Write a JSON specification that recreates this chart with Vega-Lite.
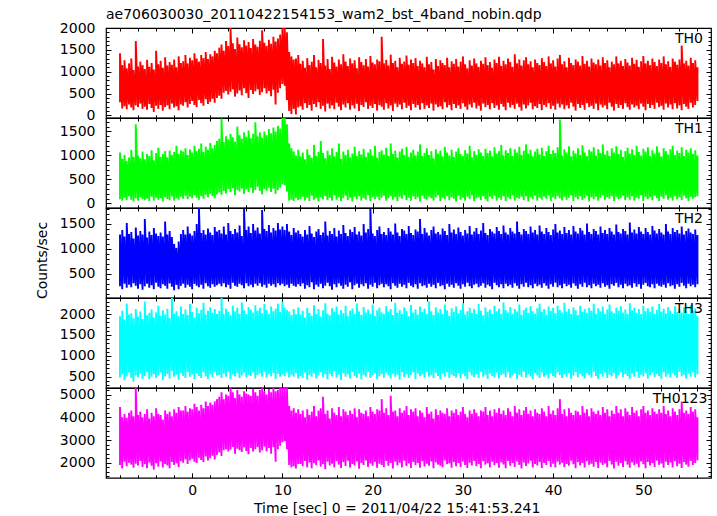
{
"$schema":"https://vega.github.io/schema/vega-lite/v6.json",
"padding":{"left":34,"top":8,"right":5,"bottom":2},
"title":{"text":"ae706030030_20110422154153_wam2_bst_4band_nobin.qdp","anchor":"start","frame":"group","font":"DejaVu Sans","fontSize":14,"fontWeight":"normal","color":"#000","offset":-13,"baseline":"alphabetic"},
"bounds":"flush",
"spacing":0,
"data":{"values":[
{"t":-8,"lo0":300,"hi0":1420,"lo1":90,"hi1":1060,"lo2":250,"hi2":1290,"lo3":480,"hi3":1950,"lo4":1900,"hi4":4450},
{"t":-7.75,"lo0":160,"hi0":1150,"lo1":60,"hi1":930,"lo2":190,"hi2":1380,"lo3":560,"hi3":2080,"lo4":1750,"hi4":4000},
{"t":-7.5,"lo0":210,"hi0":1260,"lo1":120,"hi1":1010,"lo2":300,"hi2":1250,"lo3":420,"hi3":1870,"lo4":2050,"hi4":4150},
{"t":-7.25,"lo0":140,"hi0":1080,"lo1":70,"hi1":880,"lo2":220,"hi2":1520,"lo3":510,"hi3":2250,"lo4":1850,"hi4":3980},
{"t":-7,"lo0":250,"hi0":1190,"lo1":150,"hi1":960,"lo2":280,"hi2":1300,"lo3":600,"hi3":1990,"lo4":2000,"hi4":4200},
{"t":-6.75,"lo0":180,"hi0":1300,"lo1":80,"hi1":1120,"lo2":230,"hi2":1340,"lo3":470,"hi3":2020,"lo4":1920,"hi4":4300},
{"t":-6.5,"lo0":120,"hi0":1040,"lo1":40,"hi1":970,"lo2":310,"hi2":1210,"lo3":380,"hi3":1900,"lo4":1780,"hi4":4050},
{"t":-6.25,"lo0":230,"hi0":1700,"lo1":110,"hi1":1650,"lo2":260,"hi2":1430,"lo3":540,"hi3":2120,"lo4":1960,"hi4":5290},
{"t":-6,"lo0":190,"hi0":1120,"lo1":60,"hi1":1000,"lo2":200,"hi2":1270,"lo3":490,"hi3":1940,"lo4":1880,"hi4":4100},
{"t":-5.75,"lo0":270,"hi0":1230,"lo1":130,"hi1":940,"lo2":290,"hi2":1360,"lo3":580,"hi3":2060,"lo4":2080,"hi4":4250},
{"t":-5.5,"lo0":150,"hi0":1150,"lo1":90,"hi1":1080,"lo2":180,"hi2":1290,"lo3":450,"hi3":1880,"lo4":1820,"hi4":4000},
{"t":-5.25,"lo0":200,"hi0":1060,"lo1":70,"hi1":920,"lo2":250,"hi2":1600,"lo3":520,"hi3":2300,"lo4":1940,"hi4":4150},
{"t":-5,"lo0":130,"hi0":1270,"lo1":100,"hi1":1030,"lo2":300,"hi2":1230,"lo3":610,"hi3":1970,"lo4":1760,"hi4":4350},
{"t":-4.75,"lo0":260,"hi0":1110,"lo1":50,"hi1":990,"lo2":220,"hi2":1350,"lo3":440,"hi3":2030,"lo4":2010,"hi4":3950},
{"t":-4.5,"lo0":170,"hi0":1200,"lo1":140,"hi1":1110,"lo2":270,"hi2":1280,"lo3":500,"hi3":2110,"lo4":1870,"hi4":4200},
{"t":-4.25,"lo0":80,"hi0":1050,"lo1":60,"hi1":900,"lo2":190,"hi2":1420,"lo3":560,"hi3":1920,"lo4":1700,"hi4":4050},
{"t":-4,"lo0":220,"hi0":1480,"lo1":120,"hi1":1050,"lo2":320,"hi2":1310,"lo3":470,"hi3":2040,"lo4":1980,"hi4":4400},
{"t":-3.75,"lo0":150,"hi0":1170,"lo1":80,"hi1":1160,"lo2":240,"hi2":1260,"lo3":530,"hi3":2200,"lo4":1830,"hi4":4150},
{"t":-3.5,"lo0":240,"hi0":1250,"lo1":110,"hi1":970,"lo2":210,"hi2":1330,"lo3":600,"hi3":1960,"lo4":2060,"hi4":4100},
{"t":-3.25,"lo0":110,"hi0":1090,"lo1":40,"hi1":1030,"lo2":290,"hi2":1250,"lo3":420,"hi3":2090,"lo4":1790,"hi4":3900},
{"t":-3,"lo0":190,"hi0":1330,"lo1":130,"hi1":1090,"lo2":260,"hi2":1550,"lo3":510,"hi3":1990,"lo4":1950,"hi4":4300},
{"t":-2.75,"lo0":230,"hi0":1140,"lo1":90,"hi1":960,"lo2":200,"hi2":1290,"lo3":570,"hi3":2130,"lo4":1880,"hi4":4150},
{"t":-2.5,"lo0":140,"hi0":1220,"lo1":70,"hi1":1100,"lo2":310,"hi2":1360,"lo3":460,"hi3":1900,"lo4":1760,"hi4":4250},
{"t":-2.25,"lo0":270,"hi0":1160,"lo1":150,"hi1":1010,"lo2":240,"hi2":1240,"lo3":640,"hi3":2385,"lo4":2040,"hi4":4050},
{"t":-2,"lo0":180,"hi0":1280,"lo1":60,"hi1":1070,"lo2":170,"hi2":1100,"lo3":500,"hi3":2010,"lo4":1900,"hi4":4350},
{"t":-1.75,"lo0":210,"hi0":1100,"lo1":110,"hi1":1200,"lo2":280,"hi2":1020,"lo3":550,"hi3":2070,"lo4":1980,"hi4":4200},
{"t":-1.5,"lo0":120,"hi0":1350,"lo1":80,"hi1":1030,"lo2":190,"hi2":1150,"lo3":430,"hi3":1950,"lo4":1810,"hi4":4450},
{"t":-1.25,"lo0":250,"hi0":1200,"lo1":140,"hi1":1110,"lo2":260,"hi2":1300,"lo3":590,"hi3":2180,"lo4":2070,"hi4":4300},
{"t":-1,"lo0":220,"hi0":1240,"lo1":100,"hi1":1080,"lo2":300,"hi2":1380,"lo3":520,"hi3":2000,"lo4":2000,"hi4":4300},
{"t":-0.75,"lo0":300,"hi0":1380,"lo1":160,"hi1":1150,"lo2":220,"hi2":1290,"lo3":470,"hi3":2110,"lo4":2150,"hi4":4500},
{"t":-0.5,"lo0":180,"hi0":1190,"lo1":90,"hi1":1010,"lo2":280,"hi2":1450,"lo3":610,"hi3":1980,"lo4":1950,"hi4":4250},
{"t":-0.25,"lo0":260,"hi0":1320,"lo1":140,"hi1":1130,"lo2":240,"hi2":1310,"lo3":500,"hi3":2240,"lo4":2100,"hi4":4400},
{"t":0,"lo0":330,"hi0":1260,"lo1":110,"hi1":1060,"lo2":190,"hi2":1270,"lo3":560,"hi3":2050,"lo4":2180,"hi4":4350},
{"t":0.25,"lo0":240,"hi0":1420,"lo1":170,"hi1":1200,"lo2":300,"hi2":1360,"lo3":440,"hi3":1920,"lo4":2050,"hi4":4600},
{"t":0.5,"lo0":190,"hi0":1300,"lo1":120,"hi1":1090,"lo2":260,"hi2":1500,"lo3":580,"hi3":2150,"lo4":1990,"hi4":4450},
{"t":0.75,"lo0":350,"hi0":1230,"lo1":80,"hi1":1140,"lo2":230,"hi2":1820,"lo3":520,"hi3":2020,"lo4":2220,"hi4":4300},
{"t":1,"lo0":280,"hi0":1380,"lo1":150,"hi1":1250,"lo2":280,"hi2":1320,"lo3":470,"hi3":2100,"lo4":2120,"hi4":4550},
{"t":1.25,"lo0":220,"hi0":1310,"lo1":100,"hi1":1070,"lo2":200,"hi2":1380,"lo3":600,"hi3":2270,"lo4":2030,"hi4":4400},
{"t":1.5,"lo0":370,"hi0":1450,"lo1":180,"hi1":1180,"lo2":310,"hi2":1290,"lo3":510,"hi3":1990,"lo4":2280,"hi4":4700},
{"t":1.75,"lo0":260,"hi0":1290,"lo1":130,"hi1":1120,"lo2":250,"hi2":1410,"lo3":450,"hi3":2080,"lo4":2100,"hi4":4500},
{"t":2,"lo0":310,"hi0":1400,"lo1":200,"hi1":1260,"lo2":220,"hi2":1330,"lo3":560,"hi3":2160,"lo4":2200,"hi4":4650},
{"t":2.25,"lo0":380,"hi0":1350,"lo1":150,"hi1":1150,"lo2":290,"hi2":1280,"lo3":490,"hi3":2030,"lo4":2310,"hi4":4550},
{"t":2.5,"lo0":290,"hi0":1480,"lo1":110,"hi1":1220,"lo2":240,"hi2":1440,"lo3":620,"hi3":2120,"lo4":2150,"hi4":4700},
{"t":2.75,"lo0":400,"hi0":1420,"lo1":190,"hi1":1300,"lo2":270,"hi2":1350,"lo3":530,"hi3":2010,"lo4":2350,"hi4":4800},
{"t":3,"lo0":450,"hi0":1550,"lo1":230,"hi1":1350,"lo2":300,"hi2":1380,"lo3":540,"hi3":2080,"lo4":2450,"hi4":4900},
{"t":3.25,"lo0":380,"hi0":1620,"lo1":180,"hi1":1770,"lo2":250,"hi2":1310,"lo3":470,"hi3":2385,"lo4":2300,"hi4":5100},
{"t":3.5,"lo0":520,"hi0":1480,"lo1":260,"hi1":1280,"lo2":310,"hi2":1450,"lo3":580,"hi3":2000,"lo4":2550,"hi4":4800},
{"t":3.75,"lo0":560,"hi0":1700,"lo1":210,"hi1":1400,"lo2":230,"hi2":1290,"lo3":500,"hi3":2130,"lo4":2600,"hi4":5000},
{"t":4,"lo0":480,"hi0":1590,"lo1":300,"hi1":1330,"lo2":280,"hi2":1520,"lo3":620,"hi3":2050,"lo4":2500,"hi4":4950},
{"t":4.25,"lo0":540,"hi0":2000,"lo1":240,"hi1":1450,"lo2":200,"hi2":1360,"lo3":450,"hi3":1970,"lo4":2580,"hi4":5290},
{"t":4.5,"lo0":600,"hi0":1650,"lo1":320,"hi1":1380,"lo2":320,"hi2":1300,"lo3":560,"hi3":2200,"lo4":2700,"hi4":5100},
{"t":4.75,"lo0":430,"hi0":1520,"lo1":170,"hi1":1290,"lo2":260,"hi2":1400,"lo3":510,"hi3":2060,"lo4":2400,"hi4":4850},
{"t":5,"lo0":500,"hi0":1780,"lo1":280,"hi1":1600,"lo2":240,"hi2":1330,"lo3":590,"hi3":2150,"lo4":2620,"hi4":5200},
{"t":5.25,"lo0":570,"hi0":1630,"lo1":250,"hi1":1420,"lo2":300,"hi2":1470,"lo3":470,"hi3":2010,"lo4":2550,"hi4":5000},
{"t":5.5,"lo0":460,"hi0":1560,"lo1":310,"hi1":1350,"lo2":270,"hi2":1260,"lo3":530,"hi3":2280,"lo4":2480,"hi4":4900},
{"t":5.75,"lo0":620,"hi0":1720,"lo1":200,"hi1":1480,"lo2":210,"hi2":1800,"lo3":600,"hi3":2090,"lo4":2680,"hi4":5150},
{"t":6,"lo0":510,"hi0":1600,"lo1":290,"hi1":1390,"lo2":310,"hi2":1380,"lo3":490,"hi3":2000,"lo4":2520,"hi4":5050},
{"t":6.25,"lo0":400,"hi0":1680,"lo1":240,"hi1":1520,"lo2":250,"hi2":1450,"lo3":550,"hi3":2170,"lo4":2380,"hi4":5000},
{"t":6.5,"lo0":580,"hi0":1540,"lo1":330,"hi1":1360,"lo2":280,"hi2":1320,"lo3":520,"hi3":2110,"lo4":2650,"hi4":4950},
{"t":6.75,"lo0":490,"hi0":1750,"lo1":220,"hi1":1450,"lo2":230,"hi2":1500,"lo3":610,"hi3":2040,"lo4":2500,"hi4":5250},
{"t":7,"lo0":550,"hi0":1620,"lo1":280,"hi1":1690,"lo2":300,"hi2":1370,"lo3":460,"hi3":2210,"lo4":2600,"hi4":5100},
{"t":7.25,"lo0":600,"hi0":1570,"lo1":350,"hi1":1400,"lo2":260,"hi2":1430,"lo3":540,"hi3":2080,"lo4":2700,"hi4":4950},
{"t":7.5,"lo0":470,"hi0":1710,"lo1":260,"hi1":1480,"lo2":310,"hi2":1310,"lo3":580,"hi3":2150,"lo4":2450,"hi4":5200},
{"t":7.75,"lo0":530,"hi0":1950,"lo1":190,"hi1":1370,"lo2":240,"hi2":1780,"lo3":500,"hi3":2020,"lo4":2550,"hi4":5290},
{"t":8,"lo0":620,"hi0":1660,"lo1":300,"hi1":1500,"lo2":280,"hi2":1400,"lo3":620,"hi3":2240,"lo4":2720,"hi4":5150},
{"t":8.25,"lo0":500,"hi0":1590,"lo1":270,"hi1":1420,"lo2":220,"hi2":1360,"lo3":480,"hi3":2100,"lo4":2500,"hi4":5000},
{"t":8.5,"lo0":560,"hi0":1730,"lo1":330,"hi1":1550,"lo2":300,"hi2":1480,"lo3":560,"hi3":2000,"lo4":2650,"hi4":5250},
{"t":8.75,"lo0":440,"hi0":1640,"lo1":240,"hi1":1460,"lo2":260,"hi2":1330,"lo3":510,"hi3":2180,"lo4":2400,"hi4":5100},
{"t":9,"lo0":590,"hi0":1800,"lo1":310,"hi1":1580,"lo2":290,"hi2":1420,"lo3":590,"hi3":2070,"lo4":2680,"hi4":5290},
{"t":9.25,"lo0":250,"hi0":1690,"lo1":200,"hi1":1500,"lo2":230,"hi2":1370,"lo3":450,"hi3":2130,"lo4":2050,"hi4":5150},
{"t":9.5,"lo0":520,"hi0":1760,"lo1":280,"hi1":1620,"lo2":310,"hi2":1520,"lo3":570,"hi3":2250,"lo4":2600,"hi4":5200},
{"t":9.75,"lo0":620,"hi0":1850,"lo1":330,"hi1":1560,"lo2":270,"hi2":1390,"lo3":500,"hi3":2050,"lo4":2750,"hi4":5290},
{"t":10,"lo0":720,"hi0":2000,"lo1":400,"hi1":1780,"lo2":300,"hi2":1450,"lo3":560,"hi3":2300,"lo4":2900,"hi4":5290},
{"t":10.25,"lo0":680,"hi0":2000,"lo1":380,"hi1":1780,"lo2":250,"hi2":1380,"lo3":520,"hi3":2150,"lo4":2950,"hi4":5290},
{"t":10.5,"lo0":350,"hi0":1900,"lo1":250,"hi1":1650,"lo2":280,"hi2":1500,"lo3":600,"hi3":2100,"lo4":2600,"hi4":5290},
{"t":10.75,"lo0":100,"hi0":1450,"lo1":60,"hi1":1250,"lo2":220,"hi2":1350,"lo3":480,"hi3":2060,"lo4":1900,"hi4":4500},
{"t":11,"lo0":30,"hi0":1350,"lo1":80,"hi1":1150,"lo2":300,"hi2":1280,"lo3":550,"hi3":1980,"lo4":1800,"hi4":4300},
{"t":11.25,"lo0":150,"hi0":1280,"lo1":50,"hi1":1080,"lo2":260,"hi2":1420,"lo3":500,"hi3":2120,"lo4":1850,"hi4":4400},
{"t":11.5,"lo0":20,"hi0":1300,"lo1":110,"hi1":1000,"lo2":240,"hi2":1330,"lo3":590,"hi3":2000,"lo4":1750,"hi4":4200},
{"t":11.75,"lo0":180,"hi0":1380,"lo1":70,"hi1":1120,"lo2":290,"hi2":1370,"lo3":460,"hi3":2160,"lo4":1950,"hi4":4350},
{"t":12,"lo0":210,"hi0":1180,"lo1":90,"hi1":980,"lo2":250,"hi2":1300,"lo3":520,"hi3":1990,"lo4":1950,"hi4":4150},
{"t":12.25,"lo0":130,"hi0":1250,"lo1":140,"hi1":1060,"lo2":310,"hi2":1250,"lo3":470,"hi3":2080,"lo4":1850,"hi4":4300},
{"t":12.5,"lo0":280,"hi0":1090,"lo1":60,"hi1":920,"lo2":200,"hi2":1380,"lo3":600,"hi3":1920,"lo4":2080,"hi4":4000},
{"t":12.75,"lo0":170,"hi0":1310,"lo1":120,"hi1":1130,"lo2":270,"hi2":1290,"lo3":430,"hi3":2150,"lo4":1800,"hi4":4350},
{"t":13,"lo0":240,"hi0":1150,"lo1":50,"hi1":1010,"lo2":230,"hi2":1460,"lo3":550,"hi3":2030,"lo4":2010,"hi4":4100},
{"t":13.25,"lo0":110,"hi0":1230,"lo1":160,"hi1":950,"lo2":330,"hi2":1310,"lo3":500,"hi3":1960,"lo4":1760,"hi4":4250},
{"t":13.5,"lo0":260,"hi0":1380,"lo1":80,"hi1":1220,"lo2":190,"hi2":1240,"lo3":580,"hi3":2210,"lo4":1980,"hi4":4500},
{"t":13.75,"lo0":190,"hi0":1100,"lo1":110,"hi1":990,"lo2":280,"hi2":1350,"lo3":460,"hi3":2000,"lo4":1890,"hi4":4050},
{"t":14,"lo0":300,"hi0":1270,"lo1":40,"hi1":1070,"lo2":240,"hi2":1400,"lo3":530,"hi3":2120,"lo4":2100,"hi4":4300},
{"t":14.25,"lo0":150,"hi0":1200,"lo1":130,"hi1":1300,"lo2":300,"hi2":1280,"lo3":610,"hi3":1940,"lo4":1830,"hi4":4400},
{"t":14.5,"lo0":220,"hi0":1750,"lo1":90,"hi1":1050,"lo2":210,"hi2":1330,"lo3":490,"hi3":2090,"lo4":1940,"hi4":4900},
{"t":14.75,"lo0":90,"hi0":1140,"lo1":150,"hi1":940,"lo2":260,"hi2":1550,"lo3":560,"hi3":2260,"lo4":1720,"hi4":4150},
{"t":15,"lo0":270,"hi0":1290,"lo1":70,"hi1":1100,"lo2":320,"hi2":1270,"lo3":440,"hi3":2010,"lo4":2050,"hi4":4300},
{"t":15.25,"lo0":160,"hi0":1060,"lo1":120,"hi1":1010,"lo2":250,"hi2":1360,"lo3":570,"hi3":1970,"lo4":1880,"hi4":3950},
{"t":15.5,"lo0":230,"hi0":1340,"lo1":60,"hi1":1150,"lo2":180,"hi2":1300,"lo3":510,"hi3":2140,"lo4":1960,"hi4":4400},
{"t":15.75,"lo0":140,"hi0":1210,"lo1":170,"hi1":980,"lo2":290,"hi2":1420,"lo3":630,"hi3":2050,"lo4":1800,"hi4":4200},
{"t":16,"lo0":290,"hi0":1120,"lo1":80,"hi1":1070,"lo2":230,"hi2":1250,"lo3":480,"hi3":2180,"lo4":2070,"hi4":4100},
{"t":16.25,"lo0":200,"hi0":1280,"lo1":130,"hi1":1250,"lo2":310,"hi2":1370,"lo3":550,"hi3":1990,"lo4":1920,"hi4":4450},
{"t":16.5,"lo0":120,"hi0":1170,"lo1":50,"hi1":930,"lo2":260,"hi2":1300,"lo3":420,"hi3":2100,"lo4":1770,"hi4":4050},
{"t":16.75,"lo0":250,"hi0":1400,"lo1":110,"hi1":1080,"lo2":200,"hi2":1480,"lo3":590,"hi3":2020,"lo4":2030,"hi4":4350},
{"t":17,"lo0":180,"hi0":1230,"lo1":160,"hi1":1010,"lo2":280,"hi2":1320,"lo3":500,"hi3":2200,"lo4":1860,"hi4":4250},
{"t":17.25,"lo0":280,"hi0":1130,"lo1":70,"hi1":1120,"lo2":240,"hi2":1260,"lo3":560,"hi3":1950,"lo4":2090,"hi4":4100},
{"t":17.5,"lo0":130,"hi0":1300,"lo1":120,"hi1":960,"lo2":330,"hi2":1390,"lo3":460,"hi3":2080,"lo4":1790,"hi4":4300},
{"t":17.75,"lo0":230,"hi0":1190,"lo1":40,"hi1":1040,"lo2":190,"hi2":1340,"lo3":610,"hi3":2130,"lo4":1950,"hi4":4150},
{"t":18,"lo0":160,"hi0":1260,"lo1":140,"hi1":1180,"lo2":270,"hi2":1440,"lo3":520,"hi3":2000,"lo4":1880,"hi4":4400},
{"t":18.25,"lo0":270,"hi0":1080,"lo1":90,"hi1":990,"lo2":300,"hi2":1290,"lo3":470,"hi3":2250,"lo4":2060,"hi4":4000},
{"t":18.5,"lo0":100,"hi0":1330,"lo1":150,"hi1":1090,"lo2":220,"hi2":1350,"lo3":580,"hi3":2060,"lo4":1740,"hi4":4350},
{"t":18.75,"lo0":240,"hi0":1220,"lo1":60,"hi1":1020,"lo2":290,"hi2":1270,"lo3":440,"hi3":1980,"lo4":1990,"hi4":4200},
{"t":19,"lo0":190,"hi0":1150,"lo1":110,"hi1":1140,"lo2":250,"hi2":1500,"lo3":550,"hi3":2170,"lo4":1900,"hi4":4150},
{"t":19.25,"lo0":300,"hi0":1290,"lo1":80,"hi1":970,"lo2":310,"hi2":1330,"lo3":500,"hi3":2040,"lo4":2100,"hi4":4300},
{"t":19.5,"lo0":150,"hi0":1120,"lo1":170,"hi1":1060,"lo2":200,"hi2":1400,"lo3":620,"hi3":2110,"lo4":1820,"hi4":4050},
{"t":19.75,"lo0":220,"hi0":1360,"lo1":50,"hi1":1130,"lo2":280,"hi2":1800,"lo3":470,"hi3":2000,"lo4":1970,"hi4":4450},
{"t":20,"lo0":170,"hi0":1210,"lo1":130,"hi1":1000,"lo2":240,"hi2":1310,"lo3":540,"hi3":2230,"lo4":1870,"hi4":4250},
{"t":20.25,"lo0":260,"hi0":1170,"lo1":90,"hi1":1200,"lo2":320,"hi2":1260,"lo3":590,"hi3":1960,"lo4":2040,"hi4":4150},
{"t":20.5,"lo0":110,"hi0":1280,"lo1":140,"hi1":950,"lo2":210,"hi2":1380,"lo3":450,"hi3":2090,"lo4":1780,"hi4":4350},
{"t":20.75,"lo0":240,"hi0":1240,"lo1":70,"hi1":1070,"lo2":270,"hi2":1450,"lo3":510,"hi3":2150,"lo4":1960,"hi4":4300},
{"t":21,"lo0":200,"hi0":1800,"lo1":120,"hi1":1110,"lo2":300,"hi2":1300,"lo3":570,"hi3":2040,"lo4":1900,"hi4":4800},
{"t":21.25,"lo0":130,"hi0":1190,"lo1":160,"hi1":1020,"lo2":230,"hi2":1340,"lo3":480,"hi3":2000,"lo4":1810,"hi4":4200},
{"t":21.5,"lo0":280,"hi0":1270,"lo1":60,"hi1":1160,"lo2":290,"hi2":1280,"lo3":600,"hi3":2190,"lo4":2080,"hi4":4400},
{"t":21.75,"lo0":160,"hi0":1140,"lo1":110,"hi1":990,"lo2":250,"hi2":1420,"lo3":530,"hi3":2060,"lo4":1870,"hi4":4100},
{"t":22,"lo0":230,"hi0":1390,"lo1":150,"hi1":1250,"lo2":190,"hi2":1350,"lo3":460,"hi3":2120,"lo4":1990,"hi4":4950},
{"t":22.25,"lo0":100,"hi0":1200,"lo1":80,"hi1":1030,"lo2":310,"hi2":1290,"lo3":580,"hi3":1980,"lo4":1750,"hi4":4250},
{"t":22.5,"lo0":270,"hi0":1250,"lo1":130,"hi1":1100,"lo2":260,"hi2":1510,"lo3":500,"hi3":2270,"lo4":2050,"hi4":4300},
{"t":22.75,"lo0":190,"hi0":1100,"lo1":50,"hi1":960,"lo2":220,"hi2":1330,"lo3":550,"hi3":2030,"lo4":1880,"hi4":4050},
{"t":23,"lo0":250,"hi0":1320,"lo1":140,"hi1":1080,"lo2":300,"hi2":1260,"lo3":430,"hi3":2100,"lo4":2000,"hi4":4400},
{"t":23.25,"lo0":140,"hi0":1180,"lo1":100,"hi1":1140,"lo2":240,"hi2":1400,"lo3":610,"hi3":2000,"lo4":1800,"hi4":4200},
{"t":23.5,"lo0":290,"hi0":1230,"lo1":170,"hi1":1010,"lo2":280,"hi2":1370,"lo3":490,"hi3":2160,"lo4":2090,"hi4":4300},
{"t":23.75,"lo0":170,"hi0":1370,"lo1":70,"hi1":1180,"lo2":210,"hi2":1300,"lo3":560,"hi3":2080,"lo4":1860,"hi4":4500},
{"t":24,"lo0":220,"hi0":1160,"lo1":120,"hi1":970,"lo2":320,"hi2":1460,"lo3":470,"hi3":1950,"lo4":1970,"hi4":4100},
{"t":24.25,"lo0":120,"hi0":1280,"lo1":60,"hi1":1060,"lo2":260,"hi2":1320,"lo3":540,"hi3":2220,"lo4":1770,"hi4":4350},
{"t":24.5,"lo0":260,"hi0":1200,"lo1":150,"hi1":1120,"lo2":230,"hi2":1280,"lo3":600,"hi3":2040,"lo4":2040,"hi4":4250},
{"t":24.75,"lo0":180,"hi0":1310,"lo1":90,"hi1":1000,"lo2":290,"hi2":1390,"lo3":450,"hi3":2110,"lo4":1900,"hi4":4400},
{"t":25,"lo0":240,"hi0":1130,"lo1":130,"hi1":1080,"lo2":200,"hi2":1350,"lo3":580,"hi3":1990,"lo4":1990,"hi4":4050},
{"t":25.25,"lo0":130,"hi0":1250,"lo1":40,"hi1":1230,"lo2":310,"hi2":1600,"lo3":510,"hi3":2180,"lo4":1780,"hi4":4300},
{"t":25.5,"lo0":280,"hi0":1190,"lo1":160,"hi1":990,"lo2":250,"hi2":1300,"lo3":560,"hi3":2050,"lo4":2070,"hi4":4200},
{"t":25.75,"lo0":150,"hi0":1100,"lo1":100,"hi1":1050,"lo2":270,"hi2":1420,"lo3":480,"hi3":2130,"lo4":1840,"hi4":4000},
{"t":26,"lo0":230,"hi0":1340,"lo1":80,"hi1":1150,"lo2":220,"hi2":1330,"lo3":620,"hi3":2010,"lo4":1960,"hi4":4450},
{"t":26.25,"lo0":170,"hi0":1170,"lo1":140,"hi1":1010,"lo2":300,"hi2":1270,"lo3":500,"hi3":2300,"lo4":1870,"hi4":4150},
{"t":26.5,"lo0":270,"hi0":1220,"lo1":110,"hi1":1090,"lo2":240,"hi2":1380,"lo3":540,"hi3":2070,"lo4":2060,"hi4":4250},
{"t":26.75,"lo0":110,"hi0":1050,"lo1":60,"hi1":940,"lo2":280,"hi2":1450,"lo3":470,"hi3":1980,"lo4":1760,"hi4":3950},
{"t":27,"lo0":250,"hi0":1290,"lo1":130,"hi1":1130,"lo2":210,"hi2":1310,"lo3":590,"hi3":2160,"lo4":2010,"hi4":4350},
{"t":27.25,"lo0":190,"hi0":1130,"lo1":170,"hi1":1040,"lo2":320,"hi2":1340,"lo3":520,"hi3":2040,"lo4":1920,"hi4":4100},
{"t":27.5,"lo0":210,"hi0":1260,"lo1":50,"hi1":1100,"lo2":250,"hi2":1290,"lo3":440,"hi3":2120,"lo4":1870,"hi4":4300},
{"t":27.75,"lo0":140,"hi0":1200,"lo1":120,"hi1":980,"lo2":270,"hi2":1410,"lo3":580,"hi3":2000,"lo4":1800,"hi4":4200},
{"t":28,"lo0":300,"hi0":1150,"lo1":90,"hi1":1180,"lo2":190,"hi2":1360,"lo3":500,"hi3":2230,"lo4":2100,"hi4":4150},
{"t":28.25,"lo0":180,"hi0":1320,"lo1":150,"hi1":1060,"lo2":300,"hi2":1280,"lo3":610,"hi3":2090,"lo4":1940,"hi4":4400},
{"t":28.5,"lo0":240,"hi0":1100,"lo1":70,"hi1":1000,"lo2":240,"hi2":1500,"lo3":470,"hi3":1960,"lo4":1980,"hi4":4050},
{"t":28.75,"lo0":120,"hi0":1240,"lo1":130,"hi1":1120,"lo2":280,"hi2":1330,"lo3":550,"hi3":2140,"lo4":1780,"hi4":4300},
{"t":29,"lo0":260,"hi0":1180,"lo1":100,"hi1":970,"lo2":220,"hi2":1390,"lo3":520,"hi3":2050,"lo4":2030,"hi4":4200},
{"t":29.25,"lo0":170,"hi0":1290,"lo1":40,"hi1":1080,"lo2":310,"hi2":1300,"lo3":480,"hi3":2180,"lo4":1850,"hi4":4350},
{"t":29.5,"lo0":230,"hi0":1120,"lo1":160,"hi1":1150,"lo2":260,"hi2":1430,"lo3":590,"hi3":2020,"lo4":1990,"hi4":4100},
{"t":29.75,"lo0":150,"hi0":1230,"lo1":80,"hi1":1030,"lo2":200,"hi2":1340,"lo3":460,"hi3":2100,"lo4":1820,"hi4":4250},
{"t":30,"lo0":280,"hi0":1350,"lo1":120,"hi1":990,"lo2":290,"hi2":1270,"lo3":570,"hi3":2260,"lo4":2060,"hi4":4450},
{"t":30.25,"lo0":200,"hi0":1170,"lo1":60,"hi1":1110,"lo2":240,"hi2":1380,"lo3":510,"hi3":1990,"lo4":1900,"hi4":4150},
{"t":30.5,"lo0":130,"hi0":1080,"lo1":140,"hi1":1040,"lo2":320,"hi2":1310,"lo3":440,"hi3":2070,"lo4":1770,"hi4":4000},
{"t":30.75,"lo0":250,"hi0":1260,"lo1":90,"hi1":1200,"lo2":250,"hi2":1460,"lo3":600,"hi3":2150,"lo4":2000,"hi4":4300},
{"t":31,"lo0":180,"hi0":1140,"lo1":170,"hi1":960,"lo2":210,"hi2":1290,"lo3":530,"hi3":2030,"lo4":1880,"hi4":4150},
{"t":31.25,"lo0":290,"hi0":1300,"lo1":50,"hi1":1090,"lo2":280,"hi2":1350,"lo3":490,"hi3":2120,"lo4":2080,"hi4":4350},
{"t":31.5,"lo0":160,"hi0":1190,"lo1":110,"hi1":1010,"lo2":300,"hi2":1420,"lo3":560,"hi3":2000,"lo4":1850,"hi4":4200},
{"t":31.75,"lo0":220,"hi0":1110,"lo1":130,"hi1":1130,"lo2":230,"hi2":1300,"lo3":470,"hi3":2240,"lo4":1950,"hi4":4050},
{"t":32,"lo0":110,"hi0":1250,"lo1":70,"hi1":1060,"lo2":260,"hi2":1370,"lo3":620,"hi3":2080,"lo4":1760,"hi4":4300},
{"t":32.25,"lo0":270,"hi0":1180,"lo1":150,"hi1":990,"lo2":310,"hi2":1520,"lo3":500,"hi3":1970,"lo4":2070,"hi4":4250},
{"t":32.5,"lo0":190,"hi0":1330,"lo1":90,"hi1":1140,"lo2":220,"hi2":1320,"lo3":550,"hi3":2160,"lo4":1920,"hi4":4450},
{"t":32.75,"lo0":240,"hi0":1150,"lo1":40,"hi1":1050,"lo2":280,"hi2":1280,"lo3":450,"hi3":2050,"lo4":1980,"hi4":4100},
{"t":33,"lo0":140,"hi0":1220,"lo1":140,"hi1":1100,"lo2":250,"hi2":1400,"lo3":580,"hi3":2110,"lo4":1800,"hi4":4300},
{"t":33.25,"lo0":280,"hi0":1090,"lo1":100,"hi1":980,"lo2":190,"hi2":1350,"lo3":520,"hi3":2000,"lo4":2050,"hi4":4050},
{"t":33.5,"lo0":170,"hi0":1280,"lo1":160,"hi1":1170,"lo2":320,"hi2":1310,"lo3":480,"hi3":2200,"lo4":1890,"hi4":4350},
{"t":33.75,"lo0":230,"hi0":1200,"lo1":60,"hi1":1040,"lo2":270,"hi2":1440,"lo3":600,"hi3":2070,"lo4":1990,"hi4":4200},
{"t":34,"lo0":130,"hi0":1340,"lo1":120,"hi1":1090,"lo2":230,"hi2":1360,"lo3":460,"hi3":2130,"lo4":1780,"hi4":4400},
{"t":34.25,"lo0":260,"hi0":1130,"lo1":80,"hi1":1220,"lo2":290,"hi2":1300,"lo3":540,"hi3":2010,"lo4":2020,"hi4":4150},
{"t":34.5,"lo0":200,"hi0":1250,"lo1":150,"hi1":1000,"lo2":210,"hi2":1470,"lo3":570,"hi3":2280,"lo4":1930,"hi4":4300},
{"t":34.75,"lo0":120,"hi0":1170,"lo1":50,"hi1":1110,"lo2":300,"hi2":1330,"lo3":490,"hi3":2090,"lo4":1760,"hi4":4100},
{"t":35,"lo0":290,"hi0":1300,"lo1":130,"hi1":1050,"lo2":250,"hi2":1290,"lo3":610,"hi3":2040,"lo4":2080,"hi4":4400},
{"t":35.25,"lo0":180,"hi0":1220,"lo1":90,"hi1":1150,"lo2":280,"hi2":1420,"lo3":470,"hi3":2170,"lo4":1870,"hi4":4250},
{"t":35.5,"lo0":240,"hi0":1110,"lo1":170,"hi1":990,"lo2":220,"hi2":1350,"lo3":530,"hi3":2000,"lo4":1990,"hi4":4050},
{"t":35.75,"lo0":150,"hi0":1400,"lo1":60,"hi1":1130,"lo2":310,"hi2":1310,"lo3":580,"hi3":2120,"lo4":1820,"hi4":4500},
{"t":36,"lo0":270,"hi0":1190,"lo1":120,"hi1":1060,"lo2":260,"hi2":1550,"lo3":450,"hi3":2060,"lo4":2060,"hi4":4200},
{"t":36.25,"lo0":190,"hi0":1280,"lo1":100,"hi1":1180,"lo2":200,"hi2":1340,"lo3":550,"hi3":2230,"lo4":1910,"hi4":4350},
{"t":36.5,"lo0":110,"hi0":1140,"lo1":140,"hi1":1010,"lo2":290,"hi2":1290,"lo3":500,"hi3":1980,"lo4":1750,"hi4":4100},
{"t":36.75,"lo0":250,"hi0":1260,"lo1":70,"hi1":1100,"lo2":240,"hi2":1400,"lo3":620,"hi3":2100,"lo4":2010,"hi4":4300},
{"t":37,"lo0":160,"hi0":1330,"lo1":150,"hi1":1230,"lo2":320,"hi2":1360,"lo3":480,"hi3":2150,"lo4":1860,"hi4":4450},
{"t":37.25,"lo0":230,"hi0":1170,"lo1":40,"hi1":1040,"lo2":230,"hi2":1300,"lo3":560,"hi3":2030,"lo4":1970,"hi4":4150},
{"t":37.5,"lo0":290,"hi0":1240,"lo1":130,"hi1":1120,"lo2":270,"hi2":1450,"lo3":510,"hi3":2190,"lo4":2090,"hi4":4300},
{"t":37.75,"lo0":140,"hi0":1100,"lo1":90,"hi1":980,"lo2":210,"hi2":1330,"lo3":440,"hi3":2070,"lo4":1790,"hi4":4050},
{"t":38,"lo0":210,"hi0":1280,"lo1":160,"hi1":1080,"lo2":300,"hi2":1380,"lo3":590,"hi3":2010,"lo4":1950,"hi4":4350},
{"t":38.25,"lo0":170,"hi0":1200,"lo1":60,"hi1":1140,"lo2":250,"hi2":1290,"lo3":530,"hi3":2140,"lo4":1880,"hi4":4200},
{"t":38.5,"lo0":260,"hi0":1150,"lo1":120,"hi1":1020,"lo2":280,"hi2":1470,"lo3":470,"hi3":2250,"lo4":2040,"hi4":4150},
{"t":38.75,"lo0":120,"hi0":1310,"lo1":80,"hi1":1160,"lo2":220,"hi2":1350,"lo3":600,"hi3":2050,"lo4":1770,"hi4":4400},
{"t":39,"lo0":240,"hi0":1220,"lo1":140,"hi1":990,"lo2":310,"hi2":1300,"lo3":500,"hi3":2120,"lo4":1990,"hi4":4250},
{"t":39.25,"lo0":190,"hi0":1130,"lo1":100,"hi1":1090,"lo2":260,"hi2":1420,"lo3":550,"hi3":1990,"lo4":1900,"hi4":4050},
{"t":39.5,"lo0":280,"hi0":1350,"lo1":170,"hi1":1200,"lo2":200,"hi2":1340,"lo3":460,"hi3":2180,"lo4":2080,"hi4":4500},
{"t":39.75,"lo0":150,"hi0":1190,"lo1":50,"hi1":1030,"lo2":290,"hi2":1280,"lo3":580,"hi3":2080,"lo4":1820,"hi4":4150},
{"t":40,"lo0":220,"hi0":1260,"lo1":130,"hi1":1110,"lo2":240,"hi2":1390,"lo3":520,"hi3":2150,"lo4":1960,"hi4":4300},
{"t":40.25,"lo0":130,"hi0":1120,"lo1":90,"hi1":1050,"lo2":320,"hi2":1500,"lo3":480,"hi3":2020,"lo4":1790,"hi4":4100},
{"t":40.5,"lo0":270,"hi0":1300,"lo1":150,"hi1":1170,"lo2":230,"hi2":1330,"lo3":610,"hi3":2200,"lo4":2050,"hi4":4400},
{"t":40.75,"lo0":180,"hi0":1380,"lo1":110,"hi1":1750,"lo2":270,"hi2":1370,"lo3":540,"hi3":2100,"lo4":1920,"hi4":4800},
{"t":41,"lo0":250,"hi0":1170,"lo1":60,"hi1":1000,"lo2":210,"hi2":1300,"lo3":470,"hi3":2040,"lo4":2000,"hi4":4150},
{"t":41.25,"lo0":140,"hi0":1240,"lo1":140,"hi1":1130,"lo2":300,"hi2":1440,"lo3":560,"hi3":2270,"lo4":1810,"hi4":4350},
{"t":41.5,"lo0":230,"hi0":1100,"lo1":80,"hi1":1060,"lo2":250,"hi2":1320,"lo3":500,"hi3":2060,"lo4":1950,"hi4":4050},
{"t":41.75,"lo0":160,"hi0":1320,"lo1":120,"hi1":1190,"lo2":280,"hi2":1380,"lo3":590,"hi3":2130,"lo4":1870,"hi4":4400},
{"t":42,"lo0":290,"hi0":1200,"lo1":170,"hi1":980,"lo2":220,"hi2":1290,"lo3":450,"hi3":2000,"lo4":2090,"hi4":4200},
{"t":42.25,"lo0":200,"hi0":1150,"lo1":50,"hi1":1100,"lo2":310,"hi2":1460,"lo3":530,"hi3":2160,"lo4":1940,"hi4":4100},
{"t":42.5,"lo0":110,"hi0":1280,"lo1":130,"hi1":1040,"lo2":260,"hi2":1350,"lo3":610,"hi3":2090,"lo4":1760,"hi4":4300},
{"t":42.75,"lo0":260,"hi0":1230,"lo1":90,"hi1":1150,"lo2":200,"hi2":1310,"lo3":490,"hi3":1980,"lo4":2030,"hi4":4250},
{"t":43,"lo0":170,"hi0":1140,"lo1":150,"hi1":1010,"lo2":290,"hi2":1420,"lo3":570,"hi3":2200,"lo4":1880,"hi4":4100},
{"t":43.25,"lo0":240,"hi0":1360,"lo1":70,"hi1":1210,"lo2":240,"hi2":1370,"lo3":510,"hi3":2050,"lo4":1990,"hi4":4500},
{"t":43.5,"lo0":130,"hi0":1180,"lo1":110,"hi1":1060,"lo2":320,"hi2":1290,"lo3":460,"hi3":2120,"lo4":1790,"hi4":4200},
{"t":43.75,"lo0":280,"hi0":1250,"lo1":160,"hi1":990,"lo2":230,"hi2":1510,"lo3":590,"hi3":2030,"lo4":2070,"hi4":4350},
{"t":44,"lo0":190,"hi0":1120,"lo1":40,"hi1":1120,"lo2":270,"hi2":1340,"lo3":540,"hi3":2150,"lo4":1910,"hi4":4050},
{"t":44.25,"lo0":220,"hi0":1300,"lo1":130,"hi1":1080,"lo2":210,"hi2":1300,"lo3":480,"hi3":2080,"lo4":1960,"hi4":4400},
{"t":44.5,"lo0":150,"hi0":1210,"lo1":90,"hi1":1170,"lo2":300,"hi2":1400,"lo3":620,"hi3":2250,"lo4":1830,"hi4":4250},
{"t":44.75,"lo0":270,"hi0":1170,"lo1":140,"hi1":1000,"lo2":250,"hi2":1360,"lo3":520,"hi3":2010,"lo4":2040,"hi4":4150},
{"t":45,"lo0":120,"hi0":1280,"lo1":60,"hi1":1130,"lo2":280,"hi2":1290,"lo3":450,"hi3":2140,"lo4":1770,"hi4":4300},
{"t":45.25,"lo0":250,"hi0":1140,"lo1":120,"hi1":1050,"lo2":220,"hi2":1450,"lo3":570,"hi3":2060,"lo4":2010,"hi4":4100},
{"t":45.5,"lo0":180,"hi0":1330,"lo1":170,"hi1":1230,"lo2":310,"hi2":1320,"lo3":500,"hi3":2180,"lo4":1900,"hi4":4450},
{"t":45.75,"lo0":230,"hi0":1200,"lo1":80,"hi1":1020,"lo2":240,"hi2":1380,"lo3":600,"hi3":2000,"lo4":1970,"hi4":4200},
{"t":46,"lo0":140,"hi0":1260,"lo1":130,"hi1":1100,"lo2":270,"hi2":1300,"lo3":470,"hi3":2110,"lo4":1800,"hi4":4350},
{"t":46.25,"lo0":290,"hi0":1100,"lo1":100,"hi1":990,"lo2":200,"hi2":1420,"lo3":550,"hi3":2230,"lo4":2080,"hi4":4050},
{"t":46.5,"lo0":200,"hi0":1230,"lo1":150,"hi1":1150,"lo2":290,"hi2":1350,"lo3":510,"hi3":2070,"lo4":1930,"hi4":4300},
{"t":46.75,"lo0":110,"hi0":1170,"lo1":50,"hi1":1060,"lo2":260,"hi2":1290,"lo3":590,"hi3":2020,"lo4":1750,"hi4":4150},
{"t":47,"lo0":260,"hi0":1350,"lo1":140,"hi1":1190,"lo2":320,"hi2":1490,"lo3":460,"hi3":2150,"lo4":2050,"hi4":4500},
{"t":47.25,"lo0":170,"hi0":1190,"lo1":90,"hi1":1030,"lo2":230,"hi2":1340,"lo3":540,"hi3":2080,"lo4":1870,"hi4":4200},
{"t":47.5,"lo0":240,"hi0":1250,"lo1":110,"hi1":1120,"lo2":280,"hi2":1310,"lo3":610,"hi3":2190,"lo4":1990,"hi4":4350},
{"t":47.75,"lo0":150,"hi0":1130,"lo1":160,"hi1":970,"lo2":210,"hi2":1400,"lo3":490,"hi3":2040,"lo4":1820,"hi4":4050},
{"t":48,"lo0":280,"hi0":1290,"lo1":70,"hi1":1090,"lo2":300,"hi2":1360,"lo3":560,"hi3":2110,"lo4":2070,"hi4":4400},
{"t":48.25,"lo0":190,"hi0":1210,"lo1":130,"hi1":1160,"lo2":250,"hi2":1290,"lo3":520,"hi3":2000,"lo4":1920,"hi4":4250},
{"t":48.5,"lo0":130,"hi0":1140,"lo1":80,"hi1":1040,"lo2":270,"hi2":1530,"lo3":450,"hi3":2260,"lo4":1780,"hi4":4100},
{"t":48.75,"lo0":250,"hi0":1320,"lo1":150,"hi1":1130,"lo2":220,"hi2":1330,"lo3":580,"hi3":2090,"lo4":2020,"hi4":4450},
{"t":49,"lo0":180,"hi0":1180,"lo1":60,"hi1":1010,"lo2":310,"hi2":1390,"lo3":500,"hi3":2150,"lo4":1890,"hi4":4200},
{"t":49.25,"lo0":220,"hi0":1270,"lo1":120,"hi1":1200,"lo2":240,"hi2":1310,"lo3":620,"hi3":2030,"lo4":1960,"hi4":4300},
{"t":49.5,"lo0":140,"hi0":1110,"lo1":100,"hi1":1070,"lo2":290,"hi2":1440,"lo3":470,"hi3":2120,"lo4":1800,"hi4":4050},
{"t":49.75,"lo0":270,"hi0":1240,"lo1":170,"hi1":1000,"lo2":200,"hi2":1350,"lo3":550,"hi3":2000,"lo4":2060,"hi4":4350},
{"t":50,"lo0":200,"hi0":1360,"lo1":50,"hi1":1140,"lo2":280,"hi2":1300,"lo3":510,"hi3":2200,"lo4":1940,"hi4":4500},
{"t":50.25,"lo0":120,"hi0":1190,"lo1":140,"hi1":1080,"lo2":320,"hi2":1420,"lo3":590,"hi3":2070,"lo4":1760,"hi4":4200},
{"t":50.5,"lo0":260,"hi0":1250,"lo1":90,"hi1":1170,"lo2":250,"hi2":1340,"lo3":460,"hi3":2140,"lo4":2040,"hi4":4300},
{"t":50.75,"lo0":170,"hi0":1150,"lo1":130,"hi1":990,"lo2":230,"hi2":1290,"lo3":540,"hi3":2050,"lo4":1880,"hi4":4100},
{"t":51,"lo0":240,"hi0":1300,"lo1":70,"hi1":1110,"lo2":290,"hi2":1460,"lo3":600,"hi3":2180,"lo4":1990,"hi4":4400},
{"t":51.25,"lo0":150,"hi0":1220,"lo1":160,"hi1":1040,"lo2":210,"hi2":1370,"lo3":490,"hi3":2010,"lo4":1820,"hi4":4250},
{"t":51.5,"lo0":290,"hi0":1130,"lo1":110,"hi1":1190,"lo2":300,"hi2":1310,"lo3":570,"hi3":2100,"lo4":2090,"hi4":4150},
{"t":51.75,"lo0":190,"hi0":1280,"lo1":50,"hi1":1060,"lo2":260,"hi2":1400,"lo3":520,"hi3":2240,"lo4":1910,"hi4":4350},
{"t":52,"lo0":220,"hi0":1200,"lo1":140,"hi1":980,"lo2":240,"hi2":1330,"lo3":450,"hi3":2060,"lo4":1970,"hi4":4200},
{"t":52.25,"lo0":130,"hi0":1350,"lo1":100,"hi1":1150,"lo2":280,"hi2":1290,"lo3":610,"hi3":2130,"lo4":1780,"hi4":4500},
{"t":52.5,"lo0":270,"hi0":1170,"lo1":170,"hi1":1090,"lo2":220,"hi2":1500,"lo3":500,"hi3":2020,"lo4":2050,"hi4":4150},
{"t":52.75,"lo0":180,"hi0":1240,"lo1":80,"hi1":1020,"lo2":310,"hi2":1350,"lo3":560,"hi3":2170,"lo4":1900,"hi4":4300},
{"t":53,"lo0":250,"hi0":1110,"lo1":120,"hi1":1130,"lo2":250,"hi2":1300,"lo3":480,"hi3":2080,"lo4":2010,"hi4":4050},
{"t":53.25,"lo0":140,"hi0":1300,"lo1":60,"hi1":1200,"lo2":270,"hi2":1420,"lo3":590,"hi3":2000,"lo4":1800,"hi4":4400},
{"t":53.5,"lo0":280,"hi0":1230,"lo1":150,"hi1":1010,"lo2":200,"hi2":1340,"lo3":530,"hi3":2190,"lo4":2070,"hi4":4250},
{"t":53.75,"lo0":160,"hi0":1160,"lo1":90,"hi1":1100,"lo2":290,"hi2":1380,"lo3":470,"hi3":2050,"lo4":1850,"hi4":4100},
{"t":54,"lo0":230,"hi0":1280,"lo1":130,"hi1":1050,"lo2":240,"hi2":1310,"lo3":620,"hi3":2110,"lo4":1960,"hi4":4350},
{"t":54.25,"lo0":120,"hi0":1600,"lo1":70,"hi1":1170,"lo2":320,"hi2":1450,"lo3":510,"hi3":2030,"lo4":1770,"hi4":4700},
{"t":54.5,"lo0":260,"hi0":1190,"lo1":160,"hi1":990,"lo2":260,"hi2":1290,"lo3":550,"hi3":2160,"lo4":2030,"hi4":4200},
{"t":54.75,"lo0":200,"hi0":1250,"lo1":110,"hi1":1120,"lo2":210,"hi2":1360,"lo3":460,"hi3":2080,"lo4":1920,"hi4":4300},
{"t":55,"lo0":150,"hi0":1140,"lo1":50,"hi1":1060,"lo2":300,"hi2":1410,"lo3":580,"hi3":2000,"lo4":1830,"hi4":4150},
{"t":55.25,"lo0":290,"hi0":1320,"lo1":140,"hi1":1150,"lo2":250,"hi2":1330,"lo3":500,"hi3":2220,"lo4":2080,"hi4":4450},
{"t":55.5,"lo0":180,"hi0":1200,"lo1":100,"hi1":1030,"lo2":280,"hi2":1300,"lo3":610,"hi3":2090,"lo4":1900,"hi4":4250},
{"t":55.75,"lo0":240,"hi0":1260,"lo1":130,"hi1":1110,"lo2":230,"hi2":1390,"lo3":480,"hi3":2140,"lo4":1990,"hi4":4350},
{"t":56,"lo0":330,"hi0":1100,"lo1":150,"hi1":1000,"lo2":290,"hi2":1280,"lo3":560,"hi3":1950,"lo4":2100,"hi4":4000}
]},
"vconcat":[
{"width":605,"height":89.8,
 "layer":[
  {"transform":[{"fold":["lo0","hi0"],"as":["k","v"]}],
   "mark":{"type":"line","color":"#ff0000","strokeWidth":1.9},
   "encoding":{
    "x":{"field":"t","type":"quantitative","scale":{"domain":[-9.55,57.5],"nice":false,"zero":false},
         "axis":{"orient":"bottom","values":[-8,-6,-4,-2,0,2,4,6,8,10,12,14,16,18,20,22,24,26,28,30,32,34,36,38,40,42,44,46,48,50,52,54,56],"labels":false,"title":null,"tickSize":{"condition":{"test":"datum.value % 10 === 0","value":-5},"value":-3}}},
    "y":{"field":"v","type":"quantitative","scale":{"domain":[-55,2000],"nice":false,"zero":false},
         "axis":{"orient":"left","values":[0,100,200,300,400,500,600,700,800,900,1000,1100,1200,1300,1400,1500,1600,1700,1800,1900,2000],"format":"d","labelExpr":"datum.value % 500 === 0 ? datum.label : ''","labelPadding":16,"labelFlush":false,"labelOverlap":false,"title":null,"tickSize":{"condition":{"test":"datum.value % 500 === 0","value":-5},"value":-3}}}}},
  {"data":{"values":[{"label":"TH0"}]},
   "mark":{"type":"text","align":"right","baseline":"top","font":"DejaVu Sans","fontSize":14,"fontWeight":"normal","color":"#000"},
   "encoding":{
    "text":{"field":"label"},
    "x":{"datum":56.6,"type":"quantitative","axis":{"orient":"top","values":[-8,-6,-4,-2,0,2,4,6,8,10,12,14,16,18,20,22,24,26,28,30,32,34,36,38,40,42,44,46,48,50,52,54,56],"labels":false,"title":null,"tickSize":{"condition":{"test":"datum.value % 10 === 0","value":-5},"value":-3}}},
    "y":{"datum":1908,"type":"quantitative","axis":{"orient":"right","values":[0,100,200,300,400,500,600,700,800,900,1000,1100,1200,1300,1400,1500,1600,1700,1800,1900,2000],"labels":false,"title":null,"tickSize":{"condition":{"test":"datum.value % 500 === 0","value":-5},"value":-3}}}}}
 ],
 "resolve":{"axis":{"x":"independent","y":"independent"}}},
{"width":605,"height":89.8,
 "layer":[
  {"transform":[{"fold":["lo1","hi1"],"as":["k","v"]}],
   "mark":{"type":"line","color":"#00ff00","strokeWidth":1.9},
   "encoding":{
    "x":{"field":"t","type":"quantitative","scale":{"domain":[-9.55,57.5],"nice":false,"zero":false},
         "axis":{"orient":"bottom","values":[-8,-6,-4,-2,0,2,4,6,8,10,12,14,16,18,20,22,24,26,28,30,32,34,36,38,40,42,44,46,48,50,52,54,56],"labels":false,"title":null,"tickSize":{"condition":{"test":"datum.value % 10 === 0","value":-5},"value":-3}}},
    "y":{"field":"v","type":"quantitative","scale":{"domain":[-90,1780],"nice":false,"zero":false},
         "axis":{"orient":"left","values":[0,100,200,300,400,500,600,700,800,900,1000,1100,1200,1300,1400,1500,1600,1700],"format":"d","labelExpr":"datum.value % 500 === 0 ? datum.label : ''","labelPadding":16,"labelFlush":false,"labelOverlap":false,"title":null,"tickSize":{"condition":{"test":"datum.value % 500 === 0","value":-5},"value":-3}}}}},
  {"data":{"values":[{"label":"TH1"}]},
   "mark":{"type":"text","align":"right","baseline":"top","font":"DejaVu Sans","fontSize":14,"fontWeight":"normal","color":"#000"},
   "encoding":{
    "text":{"field":"label"},
    "x":{"datum":56.6,"type":"quantitative","axis":{"orient":"top","values":[-8,-6,-4,-2,0,2,4,6,8,10,12,14,16,18,20,22,24,26,28,30,32,34,36,38,40,42,44,46,48,50,52,54,56],"labels":false,"title":null,"tickSize":{"condition":{"test":"datum.value % 10 === 0","value":-5},"value":-3}}},
    "y":{"datum":1697,"type":"quantitative","axis":{"orient":"right","values":[0,100,200,300,400,500,600,700,800,900,1000,1100,1200,1300,1400,1500,1600,1700],"labels":false,"title":null,"tickSize":{"condition":{"test":"datum.value % 500 === 0","value":-5},"value":-3}}}}}
 ],
 "resolve":{"axis":{"x":"independent","y":"independent"}}},
{"width":605,"height":89.8,
 "layer":[
  {"transform":[{"fold":["lo2","hi2"],"as":["k","v"]}],
   "mark":{"type":"line","color":"#0000ff","strokeWidth":1.9},
   "encoding":{
    "x":{"field":"t","type":"quantitative","scale":{"domain":[-9.55,57.5],"nice":false,"zero":false},
         "axis":{"orient":"bottom","values":[-8,-6,-4,-2,0,2,4,6,8,10,12,14,16,18,20,22,24,26,28,30,32,34,36,38,40,42,44,46,48,50,52,54,56],"labels":false,"title":null,"tickSize":{"condition":{"test":"datum.value % 10 === 0","value":-5},"value":-3}}},
    "y":{"field":"v","type":"quantitative","scale":{"domain":[20,1820],"nice":false,"zero":false},
         "axis":{"orient":"left","values":[100,200,300,400,500,600,700,800,900,1000,1100,1200,1300,1400,1500,1600,1700,1800],"format":"d","labelExpr":"datum.value % 500 === 0 ? datum.label : ''","labelPadding":16,"labelFlush":false,"labelOverlap":false,"title":"Counts/sec","titleX":-59.5,"titleY":52,"titleAngle":-90,"titleBaseline":"alphabetic","titleAlign":"center","tickSize":{"condition":{"test":"datum.value % 500 === 0","value":-5},"value":-3}}}}},
  {"data":{"values":[{"label":"TH2"}]},
   "mark":{"type":"text","align":"right","baseline":"top","font":"DejaVu Sans","fontSize":14,"fontWeight":"normal","color":"#000"},
   "encoding":{
    "text":{"field":"label"},
    "x":{"datum":56.6,"type":"quantitative","axis":{"orient":"top","values":[-8,-6,-4,-2,0,2,4,6,8,10,12,14,16,18,20,22,24,26,28,30,32,34,36,38,40,42,44,46,48,50,52,54,56],"labels":false,"title":null,"tickSize":{"condition":{"test":"datum.value % 10 === 0","value":-5},"value":-3}}},
    "y":{"datum":1740,"type":"quantitative","axis":{"orient":"right","values":[100,200,300,400,500,600,700,800,900,1000,1100,1200,1300,1400,1500,1600,1700,1800],"labels":false,"title":null,"tickSize":{"condition":{"test":"datum.value % 500 === 0","value":-5},"value":-3}}}}}
 ],
 "resolve":{"axis":{"x":"independent","y":"independent"}}},
{"width":605,"height":89.8,
 "layer":[
  {"transform":[{"fold":["lo3","hi3"],"as":["k","v"]}],
   "mark":{"type":"line","color":"#00ffff","strokeWidth":1.9},
   "encoding":{
    "x":{"field":"t","type":"quantitative","scale":{"domain":[-9.55,57.5],"nice":false,"zero":false},
         "axis":{"orient":"bottom","values":[-8,-6,-4,-2,0,2,4,6,8,10,12,14,16,18,20,22,24,26,28,30,32,34,36,38,40,42,44,46,48,50,52,54,56],"labels":false,"title":null,"tickSize":{"condition":{"test":"datum.value % 10 === 0","value":-5},"value":-3}}},
    "y":{"field":"v","type":"quantitative","scale":{"domain":[236,2385],"nice":false,"zero":false},
         "axis":{"orient":"left","values":[300,400,500,600,700,800,900,1000,1100,1200,1300,1400,1500,1600,1700,1800,1900,2000,2100,2200,2300],"format":"d","labelExpr":"datum.value % 500 === 0 ? datum.label : ''","labelPadding":16,"labelFlush":false,"labelOverlap":false,"title":null,"tickSize":{"condition":{"test":"datum.value % 500 === 0","value":-5},"value":-3}}}}},
  {"data":{"values":[{"label":"TH3"}]},
   "mark":{"type":"text","align":"right","baseline":"top","font":"DejaVu Sans","fontSize":14,"fontWeight":"normal","color":"#000"},
   "encoding":{
    "text":{"field":"label"},
    "x":{"datum":56.6,"type":"quantitative","axis":{"orient":"top","values":[-8,-6,-4,-2,0,2,4,6,8,10,12,14,16,18,20,22,24,26,28,30,32,34,36,38,40,42,44,46,48,50,52,54,56],"labels":false,"title":null,"tickSize":{"condition":{"test":"datum.value % 10 === 0","value":-5},"value":-3}}},
    "y":{"datum":2289,"type":"quantitative","axis":{"orient":"right","values":[300,400,500,600,700,800,900,1000,1100,1200,1300,1400,1500,1600,1700,1800,1900,2000,2100,2200,2300],"labels":false,"title":null,"tickSize":{"condition":{"test":"datum.value % 500 === 0","value":-5},"value":-3}}}}}
 ],
 "resolve":{"axis":{"x":"independent","y":"independent"}}},
{"width":605,"height":89.8,
 "layer":[
  {"transform":[{"fold":["lo4","hi4"],"as":["k","v"]}],
   "mark":{"type":"line","color":"#ff00ff","strokeWidth":1.9},
   "encoding":{
    "x":{"field":"t","type":"quantitative","scale":{"domain":[-9.55,57.5],"nice":false,"zero":false},
         "axis":{"orient":"bottom","values":[-8,-6,-4,-2,0,2,4,6,8,10,12,14,16,18,20,22,24,26,28,30,32,34,36,38,40,42,44,46,48,50,52,54,56],"labelExpr":"datum.value % 10 === 0 ? datum.label : ''","labelPadding":11,"labelFlush":false,"labelOverlap":false,"title":"Time [sec] 0 = 2011/04/22 15:41:53.241","titleX":290.7,"titleY":34.5,"titleBaseline":"alphabetic","titleAlign":"center","tickSize":{"condition":{"test":"datum.value % 10 === 0","value":-5},"value":-3}}},
    "y":{"field":"v","type":"quantitative","scale":{"domain":[1340,5290],"nice":false,"zero":false},
         "axis":{"orient":"left","values":[1400,1600,1800,2000,2200,2400,2600,2800,3000,3200,3400,3600,3800,4000,4200,4400,4600,4800,5000,5200],"format":"d","labelExpr":"datum.value % 1000 === 0 ? datum.label : ''","labelPadding":16,"labelFlush":false,"labelOverlap":false,"title":null,"tickSize":{"condition":{"test":"datum.value % 1000 === 0","value":-5},"value":-3}}}}},
  {"data":{"values":[{"label":"TH0123"}]},
   "mark":{"type":"text","align":"right","baseline":"top","font":"DejaVu Sans","fontSize":14,"fontWeight":"normal","color":"#000"},
   "encoding":{
    "text":{"field":"label"},
    "x":{"datum":57.1,"type":"quantitative","axis":{"orient":"top","values":[-8,-6,-4,-2,0,2,4,6,8,10,12,14,16,18,20,22,24,26,28,30,32,34,36,38,40,42,44,46,48,50,52,54,56],"labels":false,"title":null,"tickSize":{"condition":{"test":"datum.value % 10 === 0","value":-5},"value":-3}}},
    "y":{"datum":5114,"type":"quantitative","axis":{"orient":"right","values":[1400,1600,1800,2000,2200,2400,2600,2800,3000,3200,3400,3600,3800,4000,4200,4400,4600,4800,5000,5200],"labels":false,"title":null,"tickSize":{"condition":{"test":"datum.value % 1000 === 0","value":-5},"value":-3}}}}}
 ],
 "resolve":{"axis":{"x":"independent","y":"independent"}}}
],
"config":{
 "font":"DejaVu Sans",
 "view":{"stroke":"#000","strokeWidth":1.2},
 "concat":{"spacing":0},
 "axis":{"grid":false,"domain":false,"labelFont":"DejaVu Sans","labelFontSize":14,"labelColor":"#000","tickColor":"#000","tickWidth":1,"titleFont":"DejaVu Sans","titleFontSize":14,"titleFontWeight":"normal","titleColor":"#000"}
}
}
